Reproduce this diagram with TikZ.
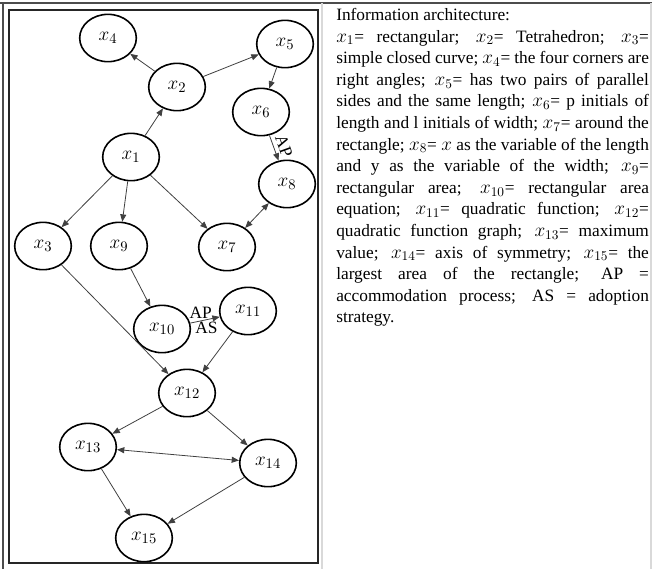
\documentclass[tikz,border=0pt]{standalone}
\usepackage{fontspec}
\setmainfont{Liberation Serif}
\usetikzlibrary{shapes.geometric,arrows.meta}
% variable names in the legend, set a little larger than the text
\newcommand{\vx}[1]{{\fontsize{14.5}{16}\selectfont$x_{#1}$}}

\begin{document}
\begin{tikzpicture}[x=0.75pt,y=-0.75pt,
  state/.style={ellipse, draw=black, line width=1.2pt,
    minimum width=42.5pt, minimum height=35.5pt, inner sep=0pt,
    font=\fontsize{15}{17}\selectfont},
  tip/.tip={Triangle[length=5.5pt,width=4.5pt]},
  link/.style={draw=black!75, line width=0.6pt, -tip},
  both/.style={draw=black!75, line width=0.6pt, tip-tip},
  lbl/.style={font=\fontsize{13}{15}\selectfont, inner sep=3pt}]

\useasboundingbox (0,0) rectangle (652,569);

% table rules and the diagram frame
\draw[black!70, line width=1.2pt] (0,3) -- (652,3);
\draw[black!70, line width=1.2pt] (3,3) -- (3,569);
\draw[black!15, line width=0.8pt] (322,3) -- (322,569);
\draw[black!15, line width=0.8pt] (651,3) -- (651,569);
\draw[black!85, line width=1.5pt] (9,10) rectangle (318,563);

% concept nodes
\node[state] (x4)  at (108,38)  {$x_{4}$};
\node[state] (x2)  at (177,87)  {$x_{2}$};
\node[state] (x5)  at (285,44)  {$x_{5}$};
\node[state] (x6)  at (261,112) {$x_{6}$};
\node[state] (x1)  at (131,157) {$x_{1}$};
\node[state] (x8)  at (287,184) {$x_{8}$};
\node[state] (x3)  at (43,246)  {$x_{3}$};
\node[state] (x9)  at (119,246) {$x_{9}$};
\node[state] (x7)  at (227,247) {$x_{7}$};
\node[state] (x10) at (162,329) {$x_{10}$};
\node[state] (x11) at (248,311) {$x_{11}$};
\node[state] (x12) at (187,393) {$x_{12}$};
\node[state] (x13) at (88,447)  {$x_{13}$};
\node[state] (x14) at (268,463) {$x_{14}$};
\node[state] (x15) at (144,538) {$x_{15}$};

% connections
\draw[link] (x2) -- (x4);
\draw[link] (x2) -- (x5);
\draw[link] (x5) -- (x6);
\draw[link] (x1) -- (x2);
\draw[link] (x6) -- node[lbl, sloped, above, pos=0.56] {AP} (x8);
\draw[link] (x1) -- (x3);
\draw[link] (x1) -- (x9);
\draw[link] (x1) -- (x7);
\draw[both] (x8) -- (x7);
\draw[link] (x9) -- (x10);
\draw[link] (x10) -- node[lbl, above, pos=0.35, inner sep=1.5pt] {AP} node[lbl, below, pos=0.55, inner sep=1.5pt] {AS} (x11);
\draw[link] (x3) -- (x12);
\draw[link] (x11) -- (x12);
\draw[link] (x12) -- (x13);
\draw[link] (x12) -- (x14);
\draw[both] (x13) -- (x14);
\draw[link] (x13) -- (x15);
\draw[link] (x14) -- (x15);

% legend
\node[anchor=north west, inner sep=0pt, font=\fontsize{13}{16.2}\selectfont] (info) at (336,8) {%
\parbox{234.5pt}{%
Information architecture:\\
\makebox[\linewidth][s]{\vx{1}= rectangular; \vx{2}= Tetrahedron; \vx{3}=}\\
\makebox[\linewidth][s]{simple closed curve; \vx{4}= the four corners are}\\
\makebox[\linewidth][s]{right angles; \vx{5}= has two pairs of parallel}\\
\makebox[\linewidth][s]{sides and the same length; \vx{6}= p initials of}\\
\makebox[\linewidth][s]{length and l initials of width; \vx{7}= around the}\\
\makebox[\linewidth][s]{rectangle; \vx{8}= {\fontsize{14.5}{16}\selectfont$x$} as the variable of the length}\\
\makebox[\linewidth][s]{and y as the variable of the width; \vx{9}=}\\
\makebox[\linewidth][s]{rectangular area; \vx{10}= rectangular area}\\
\makebox[\linewidth][s]{equation; \vx{11}= quadratic function; \vx{12}=}\\
\makebox[\linewidth][s]{quadratic function graph; \vx{13}= maximum}\\
\makebox[\linewidth][s]{value; \vx{14}= axis of symmetry; \vx{15}= the}\\
\makebox[\linewidth][s]{largest area of the rectangle; AP =}\\
\makebox[\linewidth][s]{accommodation process; AS = adoption}\\
strategy.}};
\end{tikzpicture}
\end{document}
